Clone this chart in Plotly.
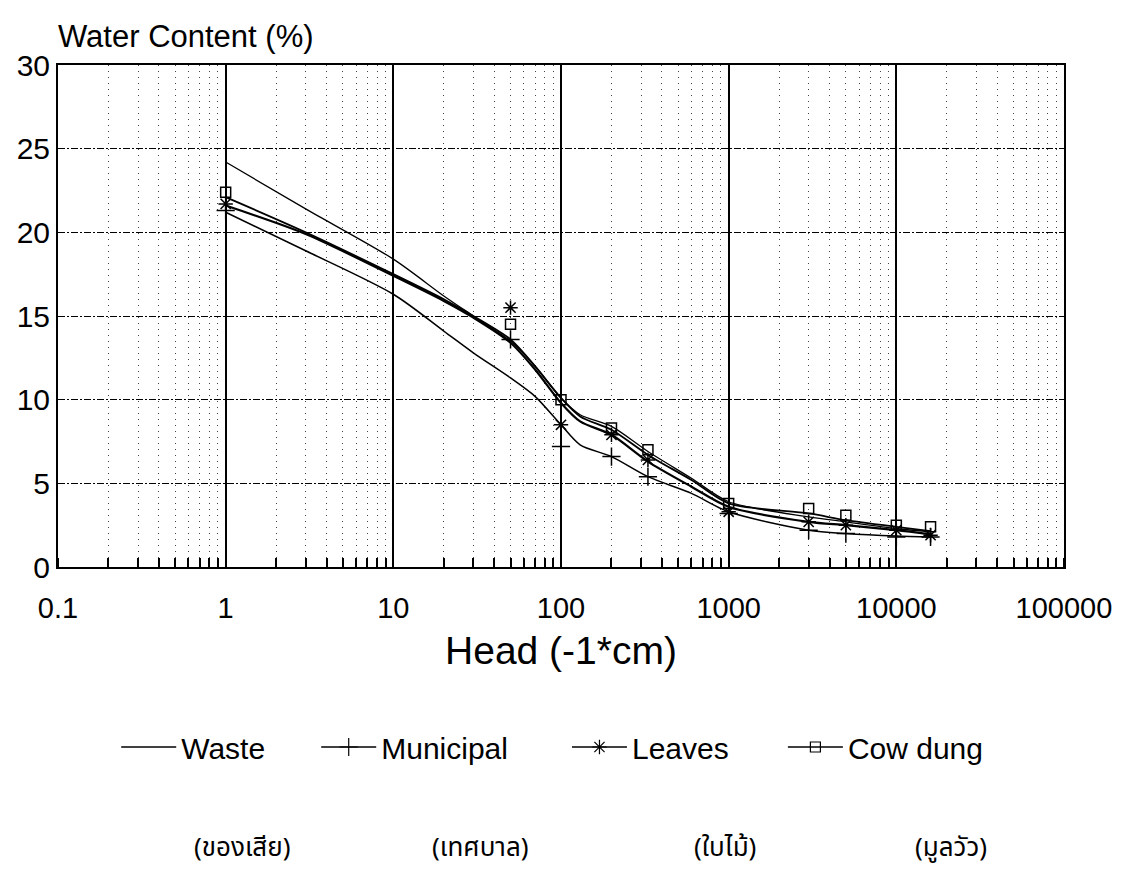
import plotly.graph_objects as go

# ---------------- data ----------------
head_curve = [1, 3, 10, 20, 30, 50, 70, 100, 130, 200, 330, 600, 1000, 3000, 5000, 10000, 16000]
waste_curve = [24.2, 21.4, 18.4, 16.2, 15.0, 13.5, 12.0, 10.1, 9.1, 8.4, 6.9, 5.3, 3.9, 3.0, 2.7, 2.3, 2.1]
municipal_curve = [21.2, 18.9, 16.3, 14.1, 12.8, 11.3, 10.2, 8.5, 7.3, 6.6, 5.4, 4.4, 3.3, 2.2, 2.0, 1.85, 1.8]
leaves_curve = [21.6, 19.9, 17.4, 15.9, 14.9, 13.4, 11.8, 9.8, 8.7, 7.9, 6.3, 4.8, 3.6, 2.7, 2.5, 2.2, 1.95]
cowdung_curve = [22.1, 20.0, 17.5, 16.0, 15.0, 13.6, 12.0, 10.1, 9.0, 8.2, 6.7, 5.2, 3.8, 3.2, 2.8, 2.4, 2.15]

head_meas = [1, 50, 100, 200, 330, 1000, 3000, 5000, 10000, 16000]
municipal_meas = [21.3, 13.6, 7.2, 6.6, 5.4, 3.2, 2.2, 2.0, 1.8, 1.8]
leaves_meas = [21.7, 15.5, 8.5, 7.9, 6.4, 3.3, 2.7, 2.5, 2.2, 1.9]
cowdung_meas = [22.4, 14.5, 10.0, 8.3, 7.0, 3.8, 3.5, 3.1, 2.5, 2.4]

series_names = ["Waste", "Municipal", "Leaves", "Cow dung"]
thai_labels = ["(ของเสีย)", "(เทศบาล)", "(ใบไม้)", "(มูลวัว)"]

x_tickvals = [0.1, 1, 10, 100, 1000, 10000, 100000]
x_ticktext = ["0.1", "1", "10", "100", "1000", "10000", "100000"]
y_tickvals = [0, 5, 10, 15, 20, 25, 30]

FONT = "Liberation Sans, Arial, Helvetica, sans-serif"
THAI_FONT = "Noto Sans Thai, Loma, Garuda, Norasi, Tlwg Typo, Liberation Sans, sans-serif"

# plot-area geometry in pixels (figure 1124 x 870)
PL, PR, PT, PB = 58, 1069, 65, 567
PW, PH = PR - PL, PB - PT


def px_x(px):
    return (px - PL) / PW


def px_y(py):
    return (PB - py) / PH


curves = [waste_curve, municipal_curve, leaves_curve, cowdung_curve]
meas = [None, municipal_meas, leaves_meas, cowdung_meas]
symbols = [None, "cross-thin-open", "asterisk-open", "square-open"]
widths = [1.3, 1.5, 2.2, 1.8]
msizes = [0, 13, 12, 10]
legend_ids = ["legend", "legend2", "legend3", "legend4"]
legend_text_px = [182, 383, 635, 852]   # left edge of each legend text

fig = go.Figure()

for name, yc, ym, sym, w, ms, lid in zip(series_names, curves, meas, symbols,
                                         widths, msizes, legend_ids):
    fig.add_trace(go.Scatter(
        x=head_curve, y=yc, mode="lines", name=name, legendgroup=name,
        showlegend=False,
        line=dict(color="black", width=w, shape="spline", smoothing=0.8),
        hoverinfo="skip"))
    if ym is not None:
        fig.add_trace(go.Scatter(
            x=head_meas, y=ym, mode="markers", name=name, legendgroup=name,
            showlegend=False,
            marker=dict(symbol=sym, size=ms, color="black",
                        line=dict(color="black", width=1.5))))
    # legend entry (line with marker)
    fig.add_trace(go.Scatter(
        x=[None], y=[None], name=name, legendgroup=name, legend=lid,
        mode="lines+markers" if sym else "lines",
        line=dict(color="black", width=1.5),
        marker=dict(symbol=sym if sym else "circle", size=ms if ms else 1,
                    color="black", line=dict(color="black", width=1.2))))

legend_common = dict(orientation="h", xanchor="left", yanchor="middle",
                     y=px_y(747), itemwidth=55, bgcolor="rgba(0,0,0,0)",
                     font=dict(family=FONT, size=30, color="black"))
legend_layout = {}
for lid, tx in zip(legend_ids, legend_text_px):
    legend_layout[lid] = dict(legend_common, x=px_x(tx - 65.5))

fig.update_layout(
    width=1124, height=870,
    margin=dict(l=PL, r=1124 - PR, t=PT, b=870 - PB),
    paper_bgcolor="white", plot_bgcolor="white",
    font=dict(family=FONT, color="black", size=28),
    showlegend=True,
    **legend_layout,
)

fig.update_xaxes(
    type="log", range=[-1, 5],
    tickmode="array", tickvals=x_tickvals, ticktext=x_ticktext,
    ticks="", ticklabelstandoff=14,
    tickfont=dict(family=FONT, size=29, color="black"),
    showgrid=True, gridcolor="black", gridwidth=1.5,
    showline=True, linecolor="black", linewidth=2, mirror=True,
    zeroline=False,
    minor=dict(dtick="D1", showgrid=True, gridcolor="#444", gridwidth=1.2,
               griddash="1px,5px", ticks="inside", ticklen=9,
               tickcolor="black", tickwidth=1.5),
    title=dict(text="Head (-1*cm)", font=dict(family=FONT, size=39, color="black"),
               standoff=14),
)

fig.update_yaxes(
    range=[0, 30], tickmode="array", tickvals=y_tickvals,
    ticks="", ticklabelstandoff=0,
    tickfont=dict(family=FONT, size=30, color="black"),
    showgrid=True, gridcolor="black", gridwidth=1.3, griddash="7px,2px,2px,2px",
    showline=True, linecolor="black", linewidth=2, mirror=True,
    zeroline=False,
)

# y-axis title placed at top-left, horizontal
fig.add_annotation(text="Water Content (%)", xref="paper", yref="paper",
                   x=px_x(56), y=px_y(36), xanchor="left", yanchor="middle",
                   showarrow=False,
                   font=dict(family=FONT, size=31, color="black"))

# Thai labels under the legend
thai_x_px = [243, 483, 728, 955]
for lab, px in zip(thai_labels, thai_x_px):
    fig.add_annotation(text=lab, xref="paper", yref="paper",
                       x=px_x(px), y=px_y(848),
                       xanchor="center", yanchor="middle", showarrow=False,
                       font=dict(family=THAI_FONT, size=26, color="black"))

fig.write_html("out.html", config={"displayModeBar": False},
               post_script="document.body.style.margin='0px';")
